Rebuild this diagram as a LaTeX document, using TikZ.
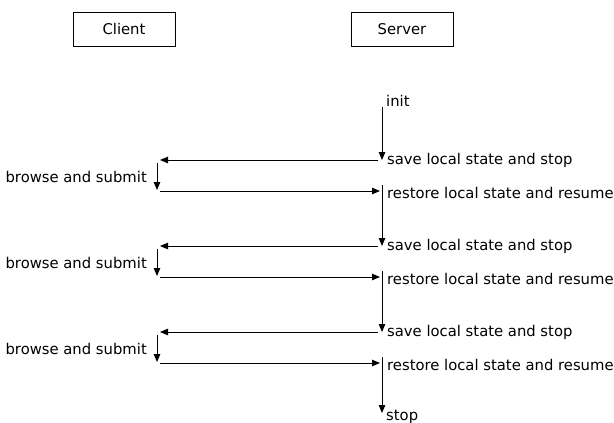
\documentclass[tikz,border=0pt]{standalone}
\usepackage{fontspec}
\setmainfont{DejaVu Sans}
\usetikzlibrary{arrows.meta}
\begin{document}
\begin{tikzpicture}[x=1pt,y=-1pt,
  lbl/.style={font=\fontsize{14.8}{17}\selectfont, inner sep=0pt},
  actor/.style={draw, line width=1pt, minimum width=102pt, minimum height=34pt, font=\fontsize{14.8}{17}\selectfont},
  msg/.style={line width=1pt, -{Triangle[length=8pt,width=6.5pt]}}]
\useasboundingbox (0,0) rectangle (614,423);
\node[actor] (client) at (124,29) {Client};
\node[actor] (server) at (402,29) {Server};
% server start
\node[lbl, anchor=west] (init) at (386,101) {init};
\coordinate (i0) at (382,107);
\foreach \k/\d in {1/0,2/86,3/172}{
  \coordinate (sv\k) at (382,160+\d);
  \coordinate (sl\k) at (378,160+\d);
  \coordinate (cl\k) at (160,160+\d);
  \coordinate (ct\k) at (157,163+\d);
  \coordinate (cb\k) at (157,190+\d);
  \coordinate (cr\k) at (160,191+\d);
  \coordinate (sr\k) at (380,191+\d);
  \coordinate (st\k) at (382,185+\d);
  \node[lbl, anchor=west] (save\k) at (387,160+\d) {save local state and stop};
  \node[lbl, anchor=east] (browse\k) at (147,177+\d) {browse and submit};
  \node[lbl, anchor=west] (restore\k) at (387,193+\d) {restore local state and resume};
  \draw[msg] (sl\k) -- (cl\k);
  \draw[msg] (ct\k) -- (cb\k);
  \draw[msg] (cr\k) -- (sr\k);
}
\coordinate (send) at (382,413);
\node[lbl, anchor=west] (stop) at (386,417) {stop};
\draw[msg] (i0) -- (sv1);
\draw[msg] (st1) -- (sv2);
\draw[msg] (st2) -- (sv3);
\draw[msg] (st3) -- (send);
\end{tikzpicture}
\end{document}
